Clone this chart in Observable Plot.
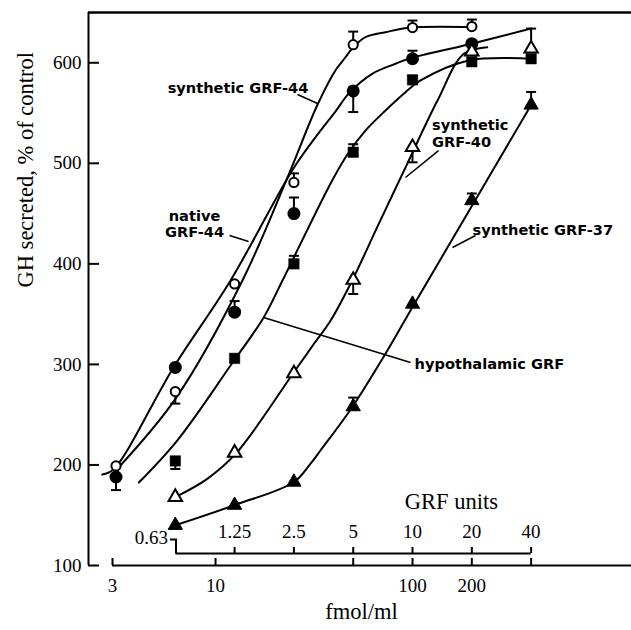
<!DOCTYPE html>
<html><head><meta charset="utf-8">
<script src="https://cdn.jsdelivr.net/npm/d3@7"></script>
<script src="https://cdn.jsdelivr.net/npm/@observablehq/plot@0.6"></script>
<style>body{margin:0;background:#fff}#chart{width:631px;height:630px}</style>
</head><body><div id="chart"></div>
<script>
// ---------- axes / tick labels ----------
const xTicks = [3, 10, 50, 100, 200, 400];            // fmol/ml
const yTicks = [100, 200, 300, 400, 500, 600];        // GH secreted, % of control
const grfUnits = [0.63, 1.25, 2.5, 5, 10, 20, 40];    // GRF units (x 10 = fmol/ml)
const grfUnitLabels = ["0.63", "1.25", "2.5", "5", "10", "20", "40"];
const xDomain = [2.2658, 1293];
const yDomain = [100, 650];

// ---------- measured points [dose fmol/ml, % of control] ----------
const synthetic44Pts = [[3.125,199],[6.25,273],[12.5,380],[25,481],[50,618],[100,635],[200,636]];
const native44Pts    = [[3.125,188],[6.25,297],[12.5,352],[25,450],[50,572],[100,604],[200,619]];
const hypothalamicPts= [[6.25,204],[12.5,306],[25,400],[50,511],[100,583],[200,601],[400,604]];
const synthetic40Pts = [[6.25,168],[12.5,212],[25,291],[50,384],[100,516],[200,611],[400,614]];
const synthetic37Pts = [[6.25,140],[12.5,160],[25,183],[50,258],[100,360],[200,463],[400,558]];

// ---------- error bars [dose, value, bar end] ----------
const synthetic44Err = [[6.25,273,261],[25,481,490],[50,618,631],[100,635,642],[200,636,643]];
const native44Err    = [[3.125,188,175],[12.5,352,363],[25,450,466],[50,572,551],[100,604,612]];
const hypothalamicErr= [[6.25,204,196],[25,400,408],[50,511,519],[100,583,587]];
const synthetic40Err = [[50,384,370],[100,516,501],[400,614,634]];
const synthetic37Err = [[50,258,267],[200,463,470],[400,558,571]];

// ---------- fitted curves as drawn [dose, value] ----------
const synthetic44Curve = [[3.22,197.5],[6.27,266],[13.7,383.5],[23.6,489.6],[32.8,557.5],[40.6,592.3],[45.7,605.5],[49.4,614.2],[57.7,625.4],[72.9,630.4],[95.8,634.8],[200,635.4]];
const native44Curve = [[2.66,190.5],[3.03,195.5],[6.12,297],[11.92,383.5],[24.5,492.9],[32.2,526],[40.6,551.5],[48,570.5],[62.4,589],[82,599],[95.8,604],[192.5,618.2],[400,634]];
const hypothalamicCurve = [[4.08,182.5],[6.39,224.3],[11.92,298.9],[17.59,347],[21.88,383.5],[39.1,482.9],[47.5,511],[57.7,532.6],[72.9,552.5],[92.1,570.7],[109.8,582.4],[193.1,602.3],[400,604]];
const synthetic40Curve = [[6.25,168],[9.08,186.2],[12.74,211.7],[24.7,290.7],[31.6,320.5],[38.4,343.7],[49.4,383.5],[66.2,436.5],[94,499.5],[133.5,561.9],[182.2,608.9],[239.4,615.5]];
const synthetic37Curve = [[6.25,140],[12.64,160.4],[24.9,182.8],[30.3,201.1],[34.1,214.4],[49.4,257.4],[72.9,310.6],[97.7,353.6],[400,558]];

// ---------- curve labels ----------
const centeredLabels = ["synthetic GRF-44", "native\nGRF-44"];
const centeredX = [13.0, 7.82];
const centeredY = [575.4, 440.1];
const leftLabels = ["synthetic\nGRF-40", "synthetic GRF-37", "hypothalamic GRF"];
const leftX = [125.5, 201.6, 102.4];
const leftY = [530.3, 434.2, 300.9];
const leaderFrom = [[26.08,568.4],[11.78,428.2],[135.5,512.7],[208.8,428.2],[97.7,301.9]];
const leaderTo   = [[32.95,559.5],[14.71,422.2],[92.1,485.9],[159.6,416.3],[17.53,346.6]];

// ---------- layout ----------
const W = 631, H = 630, mL = 88, mR = 0, mT = 12, mB = 65;
const plotW = W - mL - mR, plotH = H - mT - mB;
const serif = "'Liberation Serif', 'Times New Roman', serif";
const sans = "'DejaVu Sans', sans-serif";

const capSymbol = {draw(ctx){ ctx.moveTo(-5,0); ctx.lineTo(5,0); }};
const hookSymbol = {draw(ctx){ ctx.moveTo(-6,-14); ctx.lineTo(0,-14); ctx.lineTo(0,0); }};

const errRows = [
  ...synthetic44Err, ...native44Err, ...hypothalamicErr, ...synthetic40Err, ...synthetic37Err
].map(([dose, v, end]) => ({dose, v, end}));

const cLabels = centeredLabels.map((t, i) => ({t, x: centeredX[i], y: centeredY[i]}));
const lLabels = leftLabels.map((t, i) => ({t, x: leftX[i], y: leftY[i]}));
const leaders = leaderFrom.map((f, i) => ({x1: f[0], y1: f[1], x2: leaderTo[i][0], y2: leaderTo[i][1]}));

const curveOpts = {x: d => d[0], y: d => d[1], curve: "catmull-rom", stroke: "black", strokeWidth: 2};
const dotBase = {x: d => d[0], y: d => d[1], stroke: "black", strokeWidth: 2};
const labelOpts = {x: "x", y: "y", text: "t", fontFamily: sans, fontWeight: "bold", fontSize: 14.6, lineHeight: 1.14};

const chart = Plot.plot({
  width: W, height: H,
  marginLeft: mL, marginRight: mR, marginTop: mT, marginBottom: mB,
  style: {fontFamily: serif, fontSize: "19px", background: "white", color: "black", overflow: "visible"},
  x: {type: "log", domain: xDomain, label: null},
  y: {domain: yDomain, label: null},
  marks: [
    // frame lines
    Plot.ruleY([yDomain[1]], {strokeWidth: 2.5}),
    Plot.ruleX([xDomain[0]], {strokeWidth: 2}),
    Plot.ruleY([yDomain[0]], {x1: xTicks[0], x2: xDomain[1], strokeWidth: 2}),
    // y axis
    Plot.ruleY(yTicks, {insetRight: plotW - 11, strokeWidth: 2}),
    Plot.axisY({ticks: yTicks, tickSize: 0, tickPadding: 7, tickFormat: d => String(d), label: null, fontSize: 19, fontFamily: serif}),
    // x axis (fmol/ml)
    Plot.ruleX(xTicks, {insetTop: plotH - 7, strokeWidth: 2}),
    Plot.axisX({ticks: xTicks, tickSize: 0, tickPadding: 13, tickFormat: d => String(d), label: null, fontSize: 19, fontFamily: serif}),
    // GRF units axis
    Plot.ruleY([yDomain[0]], {x1: grfUnits[0] * 10, x2: grfUnits[grfUnits.length - 1] * 10, dy: -12, strokeWidth: 2}),
    Plot.ruleX(grfUnits.slice(1).map(u => u * 10), {insetTop: plotH - 6, dy: -12, strokeWidth: 2}),
    Plot.dot([grfUnits[0] * 10], {x: d => d, frameAnchor: "bottom", dy: -12, symbol: hookSymbol, stroke: "black", fill: "none", strokeWidth: 2}),
    Plot.text(grfUnits.slice(1), {x: d => d * 10, text: (d, i) => grfUnitLabels[i + 1], frameAnchor: "bottom", dy: -28, fontSize: 19, fontFamily: serif}),
    Plot.text([grfUnitLabels[0]], {x: () => grfUnits[0] * 10, text: d => d, frameAnchor: "bottom", dx: -8, dy: -22, textAnchor: "end", fontSize: 19, fontFamily: serif}),
    Plot.text(["GRF units"], {text: d => d, frameAnchor: "bottom-right", dx: -133.5, dy: -57, fontSize: 22.5, fontFamily: serif}),
    // axis titles
    Plot.text(["fmol/ml"], {text: d => d, frameAnchor: "bottom", dx: 1.5, dy: 53, fontSize: 22.5, fontFamily: serif}),
    Plot.text(["GH secreted, % of control"], {text: d => d, frameAnchor: "left", rotate: -90, dx: -63, dy: -1.5, fontSize: 22.5, fontFamily: serif}),
    // curves
    Plot.line(synthetic44Curve, curveOpts),
    Plot.line(native44Curve, curveOpts),
    Plot.line(hypothalamicCurve, curveOpts),
    Plot.line(synthetic40Curve, curveOpts),
    Plot.line(synthetic37Curve, curveOpts),
    // leaders
    Plot.link(leaders, {x1: "x1", y1: "y1", x2: "x2", y2: "y2", stroke: "black", strokeWidth: 1.6}),
    // error bars
    Plot.ruleX(errRows, {x: "dose", y1: "v", y2: "end", strokeWidth: 2}),
    Plot.dot(errRows, {x: "dose", y: "end", symbol: capSymbol, stroke: "black", strokeWidth: 2}),
    // points
    Plot.dot(native44Pts, {...dotBase, symbol: "circle", r: 5.5, fill: "black"}),
    Plot.dot(synthetic44Pts, {...dotBase, symbol: "circle", r: 4.6, fill: "white"}),
    Plot.dot(hypothalamicPts, {...dotBase, symbol: "square", r: 5.9, fill: "black", strokeWidth: 0.5}),
    Plot.dot(synthetic40Pts, {...dotBase, symbol: "triangle", r: 5, fill: "white"}),
    Plot.dot(synthetic37Pts, {...dotBase, symbol: "triangle", r: 5.3, fill: "black", strokeWidth: 1}),
    // labels
    Plot.text(cLabels, {...labelOpts, textAnchor: "middle"}),
    Plot.text(lLabels, {...labelOpts, textAnchor: "start"})
  ]
});
document.getElementById("chart").appendChild(chart);
</script>
</body></html>
